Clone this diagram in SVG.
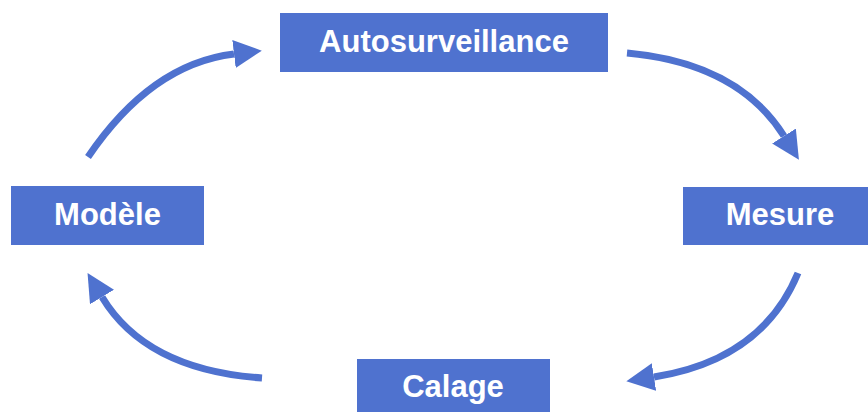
<svg xmlns="http://www.w3.org/2000/svg" width="868" height="412" viewBox="0 0 868 412">
<style>
.box{fill:#4f72cf}
.lbl{font-family:"Liberation Sans",Arial,sans-serif;font-weight:bold;font-size:31px;fill:#ffffff;text-anchor:middle}
.arc{fill:none;stroke:#4f72cf;stroke-width:7}
</style>
<defs>
<marker id="head" viewBox="0 0 28 28" refX="0" refY="14" markerWidth="28" markerHeight="28" markerUnits="userSpaceOnUse" orient="auto">
<path d="M0,0 L28,14 L0,28 z" fill="#4f72cf"/>
</marker>
</defs>
<rect width="868" height="412" fill="#ffffff"/>
<g id="connectors">
<path class="arc" d="M88,157 Q151,64 234,54" marker-end="url(#head)"/>
<path class="arc" d="M627,53 Q738,63 784,136" marker-end="url(#head)"/>
<path class="arc" d="M798,273 Q762,360 654,377" marker-end="url(#head)"/>
<path class="arc" d="M262,378 Q146,370 102,297" marker-end="url(#head)"/>
</g>
<g id="autosurveillance">
<rect class="box" x="280" y="13" width="328" height="59"/>
<text class="lbl" x="444" y="52">Autosurveillance</text>
</g>
<g id="modele">
<rect class="box" x="11" y="186" width="193" height="59"/>
<text class="lbl" x="107.5" y="225">Modèle</text>
</g>
<g id="mesure">
<rect class="box" x="683" y="187" width="190" height="58"/>
<text class="lbl" x="780" y="225">Mesure</text>
</g>
<g id="calage">
<rect class="box" x="357" y="359" width="193" height="60"/>
<text class="lbl" x="453" y="397">Calage</text>
</g>
</svg>
